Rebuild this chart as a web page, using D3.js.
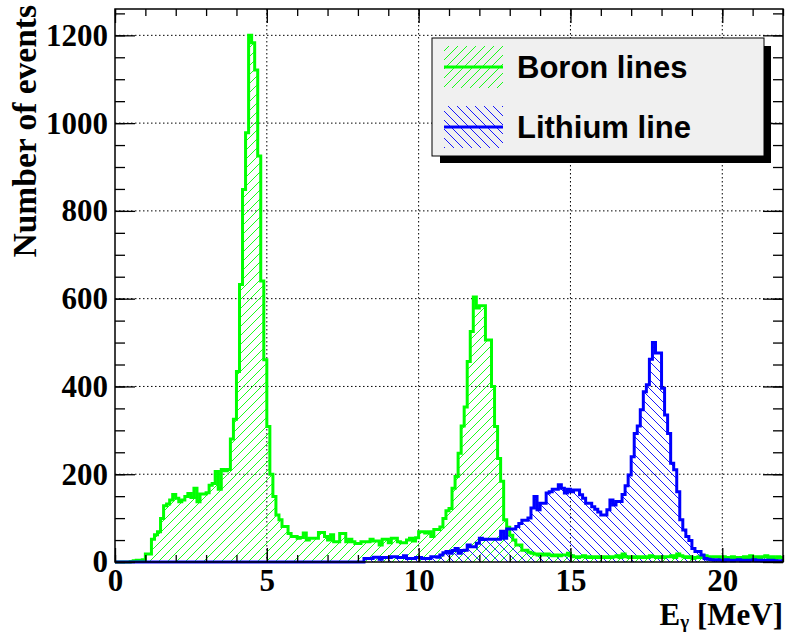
<!DOCTYPE html>
<html><head><meta charset="utf-8">
<script src="https://cdn.jsdelivr.net/npm/d3@7/dist/d3.min.js"></script>
<style>body{margin:0;background:#fff}svg{display:block}</style>
</head><body>
<svg id="c" width="787" height="635"></svg>
<script>
// ---- data (0.1 MeV bins, 0..22 MeV) ----
const binWidth = 0.1;
const xDomain = [0, 22];
const yDomain = [0, 1260];
const seriesNames = ["Boron lines", "Lithium line"];
const boronCounts = [
  0,0,0,0,0, 1,3,4,4,5,
  18,18,52,62,69,99,128,132,141,154,
  145,137,141,149,156,147,168,137,155,155,
  158,175,179,206,166,211,208,211,280,325,
  434,632,849,978,1200,1183,1121,925,640,461,
  309,200,149,107,96,81,81,65,58,58,
  54,56,66,50,54,54,54,67,67,58,
  50,62,46,46,65,65,46,52,46,42,
  42,46,46,46,52,48,48,39,52,52,
  44,54,54,46,44,44,50,54,48,55,
  69,69,66,69,58,74,74,80,99,117,
  122,168,195,248,310,353,457,525,604,579,
  584,584,506,506,400,309,236,184,96,79,
  61,50,39,39,27,27,22,20,18,16,
  18,16,18,16,14,16,14,16,16,20,
  14,12,10,12,14,10,12,10,12,10,
  12,10,12,10,12,14,10,18,12,10,
  12,10,12,10,12,10,14,12,10,12,
  10,12,12,14,10,18,14,12,10,12,
  8,10,12,10,14,12,10,12,12,10,
  12,10,8,12,10,8,10,12,10,14,
  10,12,8,12,14,10,12,8,12,10
];
const lithiumCounts = [
  0,0,0,0,0,0,0,0,0,0,
  0,0,0,0,0,0,0,0,0,0,
  0,0,0,0,0,0,0,0,0,0,
  0,0,0,0,0,0,0,0,0,0,
  0,0,0,0,0,0,0,0,0,0,
  0,0,0,0,0,0,0,0,0,0,
  0,0,0,0,0,0,0,0,0,0,
  0,0,0,0,0,0,0,0,0,0,
  0,0,8,8,8,11,11,6,10,10,
  10,12,12,10,10,14,8,8,8,10,
  10,8,8,8,12,12,11,16,21,24,
  20,26,31,20,26,27,39,35,35,43,
  54,51,52,52,52,52,52,70,54,75,
  75,75,81,88,95,95,100,123,149,119,
  134,134,157,160,166,166,176,168,157,166,
  160,164,164,153,145,134,134,126,120,114,
  107,107,119,141,130,138,138,154,174,198,
  240,293,310,347,388,404,462,500,476,476,
  396,335,293,225,210,160,96,73,58,49,
  31,24,24,16,8,6,5,4,5,4,
  3,5,4,3,4,5,3,4,3,4,
  5,3,4,2,4,3,4,3,2,3
];
const xMajorTicks = [0, 5, 10, 15, 20];
const xMinorTicks = d3.range(0, 23, 1);
const yMajorTicks = [0, 200, 400, 600, 800, 1000, 1200];
const yMinorTicks = d3.range(0, 1261, 50);
const xTitle = "E";
const xTitleSub = "γ";
const xTitleUnit = " [MeV]";
const yTitle = "Number of events";

// ---- drawing ----
const svg = d3.select("#c");
const L = 115, R = 783, T = 9, B = 562;
const x = d3.scaleLinear().domain(xDomain).range([L, R]);
const y = d3.scaleLinear().domain(yDomain).range([B, T]);
const serif = "'Liberation Serif','Times New Roman',serif";
const sans = "'Liberation Sans',Arial,Helvetica,sans-serif";
const green = "#00ff00", blue = "#0000ff";

const defs = svg.append("defs");
function hatch(id, color, dir) {
  const p = defs.append("pattern").attr("id", id).attr("patternUnits", "userSpaceOnUse")
    .attr("width", 9).attr("height", 9);
  if (dir > 0) {
    p.append("path").attr("d", "M-1,1 l2,-2 M0,9 l9,-9 M8,10 l2,-2");
  } else {
    p.append("path").attr("d", "M-1,8 l2,2 M0,0 l9,9 M8,-1 l2,2");
  }
  p.select("path").attr("stroke", color).attr("stroke-width", 0.9).attr("fill", "none");
}
hatch("hG", green, 1);
hatch("hB", blue, -1);
defs.append("clipPath").attr("id", "clip").append("rect")
  .attr("x", L).attr("y", T).attr("width", R - L).attr("height", B - T + 2);

// grid
const grid = svg.append("g").attr("stroke", "#000").attr("stroke-width", 1)
  .attr("stroke-dasharray", "1.5,2.5");
grid.selectAll(".gx").data(xMajorTicks.filter(d => d > 0)).join("line")
  .attr("x1", d => x(d)).attr("x2", d => x(d)).attr("y1", T).attr("y2", B);
grid.selectAll(".gy").data(yMajorTicks.filter(d => d > 0)).join("line")
  .attr("y1", d => y(d)).attr("y2", d => y(d)).attr("x1", L).attr("x2", R);

// histograms
function pts(counts) {
  const a = [[xDomain[0], 0]];
  counts.forEach((c, i) => a.push([i * binWidth, c]));
  a.push([counts.length * binWidth, 0]);
  return a;
}
const line = d3.line().x(d => x(d[0])).y(d => y(d[1])).curve(d3.curveStepAfter);
const hg = svg.append("g").attr("clip-path", "url(#clip)");
[[boronCounts, "hG"], [lithiumCounts, "hB"]].forEach(([c, pid]) => {
  hg.append("path").attr("d", line(pts(c)) + "Z").attr("fill", `url(#${pid})`).attr("stroke", "none");
});
[[boronCounts, green], [lithiumCounts, blue]].forEach(([c, col]) => {
  hg.append("path").attr("d", line(pts(c))).attr("fill", "none").attr("stroke", col)
    .attr("stroke-width", 3).attr("stroke-linejoin", "miter");
});

// axes (ticks inward)
function styleAxis(g) { g.select(".domain").remove(); g.selectAll(".tick line").attr("stroke", "#000").attr("stroke-width", 1.3); }
svg.append("g").attr("transform", `translate(0,${B})`)
  .call(d3.axisBottom(x).tickValues(xMinorTicks).tickSize(-7).tickFormat(""))
  .call(styleAxis);
svg.append("g").attr("transform", `translate(0,${B})`)
  .call(d3.axisBottom(x).tickValues(xMajorTicks).tickSize(-14).tickPadding(7).tickFormat(d3.format("d")))
  .call(styleAxis)
  .call(g => g.selectAll("text").attr("font-family", serif).attr("font-weight", "bold")
    .attr("font-size", 31).attr("fill", "#000").attr("dy", "0.71em"));
svg.append("g").attr("transform", `translate(0,${T})`)
  .call(d3.axisTop(x).tickValues(xMinorTicks).tickSize(-7).tickFormat("")).call(styleAxis);
svg.append("g").attr("transform", `translate(0,${T})`)
  .call(d3.axisTop(x).tickValues(xMajorTicks).tickSize(-14).tickFormat("")).call(styleAxis);
svg.append("g").attr("transform", `translate(${L},0)`)
  .call(d3.axisLeft(y).tickValues(yMinorTicks).tickSize(-10).tickFormat("")).call(styleAxis);
svg.append("g").attr("transform", `translate(${L},0)`)
  .call(d3.axisLeft(y).tickValues(yMajorTicks).tickSize(-20).tickPadding(7).tickFormat(d3.format("d")))
  .call(styleAxis)
  .call(g => g.selectAll("text").attr("font-family", serif).attr("font-weight", "bold")
    .attr("font-size", 31).attr("fill", "#000"));
svg.append("g").attr("transform", `translate(${R},0)`)
  .call(d3.axisRight(y).tickValues(yMinorTicks).tickSize(-10).tickFormat("")).call(styleAxis);
svg.append("g").attr("transform", `translate(${R},0)`)
  .call(d3.axisRight(y).tickValues(yMajorTicks).tickSize(-20).tickFormat("")).call(styleAxis);

// frame
svg.append("rect").attr("x", L).attr("y", T).attr("width", R - L).attr("height", B - T)
  .attr("fill", "none").attr("stroke", "#000").attr("stroke-width", 1.5);

// axis titles
const xt = svg.append("text").attr("x", R).attr("y", 625).attr("text-anchor", "end")
  .attr("font-family", serif).attr("font-weight", "bold").attr("font-size", 31).attr("fill", "#000");
xt.append("tspan").text(xTitle);
xt.append("tspan").attr("font-size", 19).attr("dy", 3).text(xTitleSub);
xt.append("tspan").attr("dy", -3).text(xTitleUnit);
svg.append("text").attr("transform", "translate(36,5) rotate(-90)").attr("text-anchor", "end")
  .attr("font-family", serif).attr("font-weight", "bold").attr("font-size", 33.5).attr("fill", "#000")
  .text(yTitle);

// legend
const lg = svg.append("g");
lg.append("rect").attr("x", 440).attr("y", 46).attr("width", 331).attr("height", 117).attr("fill", "#000");
lg.append("rect").attr("x", 432).attr("y", 38).attr("width", 332).attr("height", 118)
  .attr("fill", "#f0f0f0").attr("stroke", "#000").attr("stroke-width", 1);
const entries = [
  { name: seriesNames[0], col: green, pid: "hG", y0: 46 },
  { name: seriesNames[1], col: blue, pid: "hB", y0: 106 }
];
entries.forEach(e => {
  lg.append("rect").attr("x", 444).attr("y", e.y0).attr("width", 59).attr("height", 42)
    .attr("fill", `url(#${e.pid})`);
  lg.append("line").attr("x1", 444).attr("x2", 503).attr("y1", e.y0 + 21).attr("y2", e.y0 + 21)
    .attr("stroke", e.col).attr("stroke-width", 3);
  lg.append("text").attr("x", 517).attr("y", e.y0 + 32).attr("font-family", sans)
    .attr("font-weight", "bold").attr("font-size", 31).attr("fill", "#000").text(e.name);
});
</script>
</body></html>
